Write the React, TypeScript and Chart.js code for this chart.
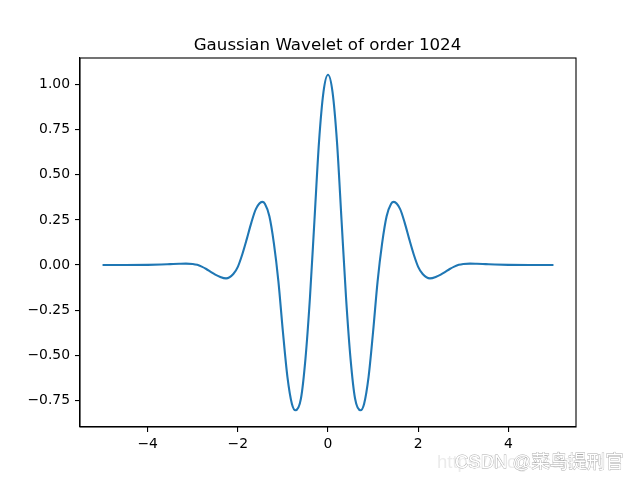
import React, { useEffect, useRef } from "react";
import { Chart, registerables } from "chart.js";

Chart.register(...registerables);

const chartTitle = "Gaussian Wavelet of order 1024";

const xValues = [
  -5.0, -4.5, -4.0, -3.7, -3.5, -3.3, -3.15, -3.0, -2.9, -2.8, -2.7, -2.6, -2.5, -2.4, -2.26,
  -2.1, -2.0, -1.9, -1.8, -1.7, -1.6, -1.46, -1.4, -1.3, -1.2, -1.1, -1.0, -0.9, -0.8, -0.72,
  -0.6, -0.5, -0.4, -0.3, -0.2, -0.1, 0.0,
  0.1, 0.2, 0.3, 0.4, 0.5, 0.6, 0.72, 0.8, 0.9, 1.0, 1.1, 1.2, 1.3, 1.4, 1.46, 1.6, 1.7, 1.8,
  1.9, 2.0, 2.1, 2.26, 2.4, 2.5, 2.6, 2.7, 2.8, 2.9, 3.0, 3.15, 3.3, 3.5, 3.7, 4.0, 4.5, 5.0,
];

const yValues = [
  0.0, 0.0, 0.001, 0.003, 0.005, 0.007, 0.008, 0.006, 0.001, -0.009, -0.022, -0.038, -0.053, -0.065, -0.074,
  -0.05, -0.01, 0.06, 0.145, 0.235, 0.31, 0.35, 0.34, 0.27, 0.12, -0.09, -0.37, -0.62, -0.77, -0.805,
  -0.74, -0.52, -0.18, 0.25, 0.68, 0.96, 1.055,
  0.96, 0.68, 0.25, -0.18, -0.52, -0.74, -0.805, -0.77, -0.62, -0.37, -0.09, 0.12, 0.27, 0.34, 0.35, 0.31, 0.235, 0.145,
  0.06, -0.01, -0.05, -0.074, -0.065, -0.053, -0.038, -0.022, -0.009, 0.001, 0.006, 0.008, 0.007, 0.005, 0.003, 0.001, 0.0, 0.0,
];

const xTicks = [-4, -2, 0, 2, 4];
const yTicks = [-0.75, -0.5, -0.25, 0.0, 0.25, 0.5, 0.75, 1.0];

const FONT = "'DejaVu Sans', sans-serif";

export default function App() {
  const ref = useRef<HTMLCanvasElement | null>(null);

  useEffect(() => {
    const canvas = ref.current;
    if (!canvas) return;

    const framePlugin = {
      id: "frameAndText",
      afterDraw(chart: any) {
        const { ctx, chartArea } = chart;
        const { left, right, top, bottom } = chartArea;
        ctx.save();
        ctx.strokeStyle = "#000";
        ctx.lineWidth = 1.1;
        ctx.strokeRect(left, top, right - left, bottom - top);
        // title
        ctx.fillStyle = "#000";
        ctx.font = `16.67px ${FONT}`;
        ctx.textAlign = "center";
        ctx.textBaseline = "alphabetic";
        ctx.fillText(chartTitle, (left + right) / 2 - 0.5, top - 8.3);
        // watermark
        ctx.textAlign = "left";
        ctx.font = `18.5px 'Liberation Sans', 'Noto Sans CJK SC', sans-serif`;
        ctx.fillStyle = "rgba(215,215,215,0.5)";
        ctx.fillText("https://blog.csdn.net", 437, 468);
        ctx.lineWidth = 0.8;
        ctx.strokeStyle = "rgba(140,140,140,0.75)";
        ctx.strokeText("CSDN @菜鸟提刑官", 455, 468);
        ctx.fillStyle = "#ffffff";
        ctx.fillText("CSDN @菜鸟提刑官", 455, 468);
        ctx.restore();
      },
    };

    const chart = new Chart(canvas, {
      type: "line",
      data: {
        datasets: [
          {
            data: xValues.map((x, i) => ({ x, y: yValues[i] })),
            borderColor: "#1f77b4",
            borderWidth: 2.1,
            pointRadius: 0,
            fill: false,
            cubicInterpolationMode: "monotone",
          },
        ],
      },
      options: {
        responsive: false,
        animation: false,
        layout: { padding: { left: 0, top: 58, right: 64, bottom: 0 } },
        plugins: {
          legend: { display: false },
          title: { display: false },
          tooltip: { enabled: false },
        },
        scales: {
          x: {
            type: "linear",
            min: -5.5,
            max: 5.5,
            afterBuildTicks: (scale: any) => {
              scale.ticks = xTicks.map((v) => ({ value: v }));
            },
            afterFit: (scale: any) => {
              scale.height = 53;
            },
            grid: {
              drawOnChartArea: false,
              drawTicks: true,
              tickLength: 5,
              color: "#000",
              lineWidth: 1.1,
            },
            border: { display: true, color: "#000", width: 1.1 },
            ticks: {
              color: "#000",
              padding: 4,
              maxRotation: 0,
              font: { family: FONT, size: 13.9 },
              callback: (v: any) => {
                const n = Number(v);
                return n < 0 ? "\u2212" + Math.abs(n) : String(n);
              },
            },
          },
          y: {
            type: "linear",
            min: -0.898,
            max: 1.148,
            afterBuildTicks: (scale: any) => {
              scale.ticks = yTicks.map((v) => ({ value: v }));
            },
            afterFit: (scale: any) => {
              scale.width = 80;
            },
            grid: {
              drawOnChartArea: false,
              drawTicks: true,
              tickLength: 5,
              color: "#000",
              lineWidth: 1.1,
            },
            border: { display: true, color: "#000", width: 1.1 },
            ticks: {
              color: "#000",
              padding: 5,
              font: { family: FONT, size: 13.9 },
              callback: (v: any) => {
                const n = Number(v);
                const s = Math.abs(n).toFixed(2);
                return n < 0 ? "\u2212" + s : s;
              },
            },
          },
        },
      },
      plugins: [framePlugin],
    } as any);

    return () => chart.destroy();
  }, []);

  return (
    <div style={{ position: "absolute", left: 0, top: 0, width: 640, height: 480, background: "#fff" }}>
      <canvas ref={ref} width={640} height={480} style={{ width: 640, height: 480 }} />
    </div>
  );
}
